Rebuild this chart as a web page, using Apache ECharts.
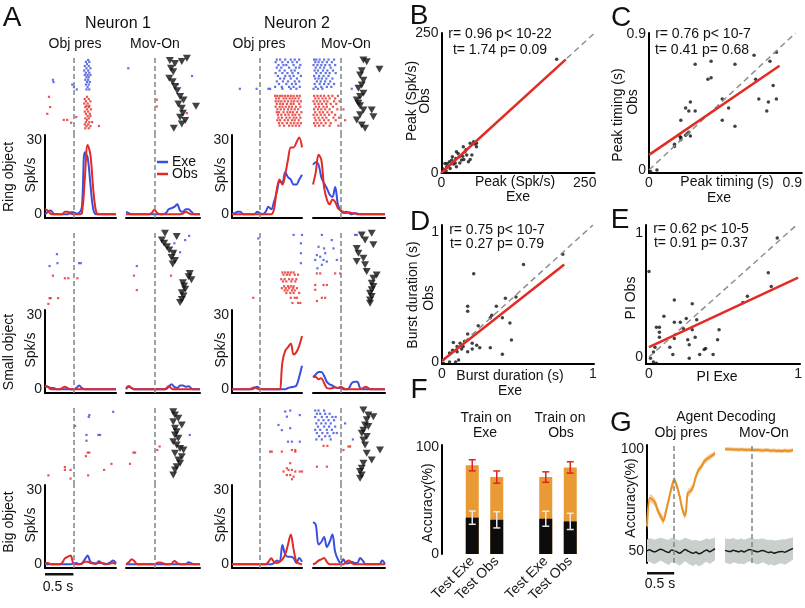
<!DOCTYPE html>
<html>
<head>
<meta charset="utf-8">
<title>Neuron figure</title>
<script src="https://cdn.jsdelivr.net/npm/echarts@6/dist/echarts.min.js"></script>
<style>
html,body{margin:0;padding:0;background:#ffffff;}
#chart{width:805px;height:608px;}
</style>
</head>
<body>
<div id="chart"></div>
<script>
// ================= DATA =================
const timeObj = [-0.5,-0.45,-0.4,-0.35,-0.3,-0.25,-0.2,-0.15,-0.1,-0.05,0,0.05,0.1,0.15,0.2,0.25,0.3,0.35,0.4,0.45,0.5,0.55,0.6,0.65,0.7,0.75];
const timeMov = [-0.5,-0.45,-0.4,-0.35,-0.3,-0.25,-0.2,-0.15,-0.1,-0.05,0,0.05,0.1,0.15,0.2,0.25,0.3,0.35,0.4,0.45,0.5,0.55,0.6,0.65,0.7,0.75,0.8];
const psthTickLabels = [0, 30];

// PSTHs (spk/s)  Neuron 1
const n1RingObjPsthExe  = [0,1,1.5,0.3,0,0,0,0,0,0.8,0.8,0.3,0.5,3,25,23,12,2,0,0,0,0,0,0,0,0];
const n1RingObjPsthObs  = [2,1.5,0.2,0,0,0,0,1,1,0.3,0,0,0,0.5,14,28,24,10,1,0,0,0,0,0,0,0];
const n1RingMovPsthExe  = [1,0.5,0,0,0,0,0,0,0,0,0,0,0,0,0.5,2,2.5,3,4,1.5,1,2,2,1,0,0,0];
const n1RingMovPsthObs  = [0,0,0,0,0,0,0,0,0,0.5,1.8,0.5,0,0,0,0,0,0,0,0,0.3,1,0.5,0,0,0,0];
const n1SmallObjPsthExe = [1,1,0.5,0.5,0,0,0,0,0,0,0,0.5,1.5,0.5,0,0,0,0,0,0,0,0,0,0,0,0];
const n1SmallObjPsthObs = [1.5,1,0,0,0,0,0.5,1,0.5,0,0,0,0,0,0,0,0,0,0,0,0,0,0,0,0,0];
const n1SmallMovPsthExe = [0,1,0.5,0,0,0,0,0,0,0,0,0,0,0,0,1,2,1,0.5,1.5,1.5,1,1.2,0.3,0,0,0];
const n1SmallMovPsthObs = [0.5,1.3,0.5,0,0,0,0,0,0,0,0,0,0,0,0.3,1.2,0.3,0,0,0,0,0,0,0,0,0,0];
const n1BigObjPsthExe   = [0,0,0,0,0,0,0,0,0,0,0.3,0.5,0,0.3,2,3.5,1,0.5,0.3,1.2,0.5,0,0.2,0.8,1.5,0.5];
const n1BigObjPsthObs   = [0.5,0.5,0,0,0,0,0.5,2.4,3,3.5,0.3,0,0,0.3,1,1,0.5,0.3,0.2,0.5,0.5,0.3,0,0.3,0.5,0];
const n1BigMovPsthExe   = [0,0,0,0,0,0,0,0,0,0,0,0,0,0,0,0,0,0,0,0,0,0,0.8,0.3,0,0,0];
const n1BigMovPsthObs   = [0,0.8,2,1.2,0,0,0,0,0,0,0,0.6,0.7,0.4,0,0,0.3,1.3,0.5,0,0,0,0,0,0,0,0];
// PSTHs Neuron 2
const n2RingObjPsthExe  = [0,0.5,1,1,0,0,0,0,0,1,0.5,0,1,3,2,5,9,13,13,17,15,14,12,12,14,16];
const n2RingObjPsthObs  = [0,0,0,0,0,0,0,0,0,0,0,0,0,0,0,2,10,14,12,16,22,27,27,29,31,27];
const n2RingMovPsthExe  = [20,21,20,15,12.5,10.5,8,7,11,4,1.5,0.5,1,0.5,0,0.5,0.3,0,0,0,0,0,0,0,0,0,0];
const n2RingMovPsthObs  = [12,17,24,22,11,6,4,6,5,2.5,1.5,1,0.5,0.8,0.5,0.3,0,0,0,0,0,0,0,0,0,0,0];
const n2SmallObjPsthExe = [0,0,0,0,0,0,0,0,0.5,1,0.3,0,0,0,0,0,0,0,0,0,0.5,0.8,1,1.5,5,9.5];
const n2SmallObjPsthObs = [0,0,0,0,0,0,0,0.3,0.8,0.3,0,0,0,0,0,0,0,0,11,15.5,17,18.5,14,15,17.5,21.5];
const n2SmallMovPsthExe = [5,6,7,7,5.5,3,2,1.5,0.8,0.5,0.5,0,0,0.5,2.5,3,3,0.5,0,0,0,0,0,0,0,0,0];
const n2SmallMovPsthObs = [5,5,4,4.5,2.5,0.5,0.3,0.5,0.8,0.5,1,0.5,0,0,0,0,0,0,0.5,1,0.5,0,0,0,0,0,0];
const n2BigObjPsthExe   = [0,0,0,0,0,0,0,0,0,0,0,0,0,0,0,0.5,1.5,1,7.8,4,3,3,2.5,0.5,2.5,1];
const n2BigObjPsthObs   = [0,0,0,0,0,0,0,0,0,0,0,0,0,1,2.4,1,0.5,1,2,4,8,12,6,1,0.3,0];
const n2BigMovPsthExe   = [17,16,8,9,11,7,9,12,5,2,0.5,2,0.3,0.5,1,0.5,0.5,2.5,1.5,0,0,0,0,0,0,1.5,0];
const n2BigMovPsthObs   = [0,0.5,1.5,2,2.5,1,0,0,0,0,0,0,1,1.5,0.5,0,0,0,0,0,0,0,0,0,0,0,0];

// Rasters: each row = [trial position, spike times...]; onsets = [time, trial position]
const n1RingObjExeSpikes = [[0.6,0.26],[1.2,0.22,0.28],[1.9,0.24],[2.5,0.2,0.27],[3.2,0.23,0.3],[3.9,0.19,0.26],[4.6,0.22,0.28],[5.3,0.2,0.25,0.3],[6.0,0.23,0.27],[6.8,-0.36,0.21,0.26],[7.5,-0.35,0.24,0.29],[8.3,-0.02,0.22,0.27],[9.1,0.01,0.25],[9.8,0.06,0.23,0.28]];
const n1RingObjObsSpikes = [[12.1,-0.43,0.24],[12.8,0.2,0.27],[13.5,0.22,0.3],[14.2,0.19,0.25],[14.9,0.23,0.28],[15.3,-0.41,0.21,0.27],[16.0,0.24,0.31],[16.7,0.2,0.26],[17.4,-0.46,0.22,0.29],[18.1,0.25,0.3],[18.4,0.05],[18.8,0.21,0.27],[19.3,-0.17,-0.11,0.24],[20.0,0.22,0.28,0.33],[20.2,-0.04],[20.7,0.2,0.26],[21.2,0.23,0.3,0.45],[21.9,0.21,0.27]];
const n1RingMovExeSpikes = [[3.2,-0.46],[5.6,0.66],[8.2,0.41]];
const n1RingMovObsSpikes = [[13,0.04],[15.1,0.04],[17.2,0.57]];
const n1RingMovOnsets = [[0.57,0.1],[0.27,0.8],[0.48,1.1],[0.36,1.7],[0.29,3.2],[0.33,4.3],[0.26,6.3],[0.32,7.4],[0.36,8.9],[0.4,10.2],[0.45,12],[0.51,13.1],[0.42,14.3],[0.73,15],[0.48,15.7],[0.5,17.2],[0.45,18.5],[0.54,19.5],[0.48,20.6],[0.34,21.9]];

const n1SmallObjExeSpikes = [[6.6,-0.29],[9.4,-0.28,0.1,0.13],[10.3,-0.42]];
const n1SmallObjObsSpikes = [[13.3,-0.36],[14.1,-0.15,-0.09,0.07],[20.3,-0.42,-0.4,-0.27],[22.1,-0.44]];
const n1SmallMovExeSpikes = [[0.9,0.61],[2.2,0.54],[3.2,0.35],[6,0.36,0.45],[10.3,-0.31]];
const n1SmallMovObsSpikes = [[13.3,-0.36,0.29],[17.8,-0.31]];
const n1SmallMovOnsets = [[0.185,0.1],[0.39,1.1],[0.13,2.2],[0.17,3.2],[0.22,4.3],[0.26,5.3],[0.33,6.3],[0.3,7.6],[0.36,8.6],[0.32,9.7],[0.62,12.6],[0.6,13.6],[0.65,14.6],[0.5,15.5],[0.52,16.5],[0.54,17.5],[0.48,18.6],[0.51,19.6],[0.48,20.7],[0.45,21.7]];

const n1BigObjExeSpikes = [[1.2,0.7],[2.2,0.28],[2.8,0.27],[5.6,0.03],[8.4,0.23,0.44,0.47],[10.2,0.23]];
const n1BigObjObsSpikes = [[13.9,0.25,0.28],[15,0.22],[17.4,0.67],[18.4,-0.15],[19.3,-0.15,-0.05,0.54],[21,-0.44,0.26],[22,-0.05]];
const n1BigMovExeSpikes = [[8.4,0.62]];
const n1BigMovObsSpikes = [[12,0.09],[13.1,0.05],[13.9,-0.37,-0.34],[17.4,-0.43]];
const n1BigMovOnsets = [[0.33,1.15],[0.36,2.2],[0.42,3.2],[0.33,4.3],[0.48,5.3],[0.36,6.3],[0.39,7.4],[0.36,8.4],[0.42,9.4],[0.33,10.5],[0.39,11.5],[0.45,12.6],[0.51,13.1],[0.36,14.1],[0.48,15.2],[0.42,16.2],[0.45,17.2],[0.39,18.3],[0.36,19.3],[0.33,20.9]];

const n2RingObjExeSpikes = [[0.5,0.3,0.36,0.45,0.55,0.62,0.7],[1.3,0.28,0.4,0.5,0.58,0.66],[2.2,0.33,0.42,0.47,0.6,0.72],[3.0,0.3,0.38,0.52,0.64,0.7],[3.9,0.35,0.44,0.56,0.62],[4.7,0.28,0.4,0.49,0.58,0.68],[5.6,0.32,0.45,0.53,0.6,0.73],[6.4,0.36,0.43,0.55,0.66],[7.3,0.3,0.41,0.5,0.62,0.7],[8.1,0.34,0.47,0.57,0.64],[9.0,0.27,0.39,0.52,0.6,0.71],[9.6,-0.36,-0.06,0.15,0.18,0.4,0.55,0.65]];
const n2RingObjObsSpikes = [[11.8,0.27,0.31,0.36,0.4,0.45,0.5,0.55,0.6,0.66,0.71],[12.6,0.29,0.34,0.42,0.47,0.53,0.58,0.63,0.69],[13.5,0.28,0.33,0.38,0.44,0.5,0.56,0.61,0.67,0.73],[14.3,0.3,0.36,0.41,0.48,0.55,0.6,0.7],[15.2,0.28,0.35,0.4,0.46,0.52,0.57,0.64,0.72],[16.0,0.31,0.37,0.43,0.5,0.56,0.62,0.68],[16.9,0.3,0.34,0.42,0.49,0.54,0.59,0.66,0.74],[17.7,0.32,0.38,0.45,0.51,0.58,0.63,0.7],[18.6,0.33,0.39,0.47,0.53,0.6,0.65,0.72],[19.4,0.31,0.36,0.44,0.5,0.57,0.62,0.69],[20.3,0.34,0.4,0.48,0.55,0.61,0.67,0.73],[21.1,0.35,0.43,0.52,0.58,0.64,0.7]];
const n2RingMovExeSpikes = [[0.5,-0.48,-0.44,-0.38,-0.3,-0.22,-0.12],[1.3,-0.46,-0.4,-0.33,-0.25,-0.16],[2.2,-0.49,-0.42,-0.35,-0.28,-0.2,-0.1],[3.0,-0.45,-0.37,-0.3,-0.18],[3.9,-0.47,-0.41,-0.32,-0.24,-0.14],[4.7,-0.44,-0.36,-0.27,-0.2,-0.09],[5.6,-0.48,-0.39,-0.31,-0.22],[6.4,-0.46,-0.4,-0.34,-0.26,-0.15],[7.3,-0.43,-0.36,-0.28,-0.19],[8.1,-0.47,-0.38,-0.3,-0.22,-0.12],[9.0,-0.45,-0.35,-0.25,-0.17],[9.6,-0.49,-0.41,-0.33,0.2]];
const n2RingMovObsSpikes = [[11.8,-0.48,-0.42,-0.36,-0.3,-0.22,-0.15,-0.05],[12.6,-0.46,-0.4,-0.33,-0.27,-0.2,-0.1],[13.5,-0.49,-0.43,-0.37,-0.3,-0.24,-0.12,-0.02],[14.3,-0.47,-0.4,-0.34,-0.26,-0.18,-0.08],[15.2,-0.45,-0.39,-0.31,-0.25,-0.14],[16.0,-0.48,-0.41,-0.35,-0.28,-0.2,-0.06,0.05],[16.9,-0.46,-0.38,-0.32,-0.24,-0.16],[17.7,-0.49,-0.43,-0.36,-0.29,-0.21,-0.1],[18.6,-0.47,-0.4,-0.33,-0.26,-0.13,-0.03],[19.4,-0.45,-0.38,-0.3,-0.22,-0.09,0.08],[20.3,-0.48,-0.42,-0.35,-0.27,-0.18],[21.1,-0.46,-0.39,-0.31,-0.2,-0.04]];
const n2RingMovOnsets = [[0.41,0.6],[0.47,1.2],[0.7,3.5],[0.38,4],[0.35,5.3],[0.41,6.9],[0.38,8.4],[0.32,9.4],[0.41,11],[0.35,12],[0.29,13.1],[0.32,14.1],[0.35,14.9],[0.41,16.2],[0.56,16.2],[0.59,18.3],[0.35,17.7],[0.29,19.3],[0.38,20.9],[0.44,21.9]];

const n2SmallObjExeSpikes = [[0.6,0.6,0.75],[1.7,-0.03],[3.2,0.73],[6.3,0.73],[9.4,0.73]];
const n2SmallObjObsSpikes = [[12.3,0.4,0.45,0.5,0.55,0.6],[13.0,0.42,0.48,0.53,0.62,0.68],[14.4,0.38,0.44,0.52,0.58,0.65],[15.1,0.41,0.47,0.56,0.63],[16.6,0.43,0.5,0.55,0.6],[17.2,0.39,0.46,0.52,0.59,0.66],[17.9,0.44,0.49,0.57,0.62],[18.7,0.47,0.54,0.6,0.7],[20.2,-0.12,0.55,0.62,0.66],[21.8,0.58,0.68,0.72]];
const n2SmallMovExeSpikes = [[0.6,-0.34,0.26,0.29],[2.2,-0.16],[4.3,-0.4],[4.8,-0.3,-0.13],[6.3,-0.28],[6.9,-0.43],[7.4,-0.37],[8.4,-0.46,-0.31,-0.07],[8.9,-0.25],[9.9,-0.34],[11,-0.42]];
const n2SmallMovObsSpikes = [[11.6,0.44],[12.6,-0.43,-0.37,-0.1,-0.01],[16.2,-0.46,-0.31,-0.25],[17.7,-0.46],[20.2,-0.34,-0.28],[21.2,-0.43]];
const n2SmallMovOnsets = [[0.38,0.6],[0.56,0.1],[0.44,2.2],[0.59,3.7],[0.29,4.8],[0.32,6.3],[0.41,7.9],[0.29,8.9],[0.44,9.9],[0.47,12],[0.65,13.1],[0.59,14.1],[0.56,15.7],[0.59,16.7],[0.56,17.7],[0.53,18.8],[0.56,19.8],[0.53,20.9],[0.53,21.9]];

const n2BigObjExeSpikes = [[0.8,0.54],[1.1,0.45],[2.2,0.71],[2.7,0.48],[5.3,0.33],[6.3,0.54],[6.9,0.39],[10.5,0.5,0.57,0.71]];
const n2BigObjObsSpikes = [[13.1,0.57,0.63],[13.6,0.18,0.21,0.39,0.63],[17.2,0.54],[18.8,0.48],[19.3,0.51,0.57],[19.8,0.42,0.63,0.71,0.75],[20.9,0.48,0.54],[21.4,0.6],[22.2,0.57]];
const n2BigMovExeSpikes = [[0.8,-0.46,-0.4,-0.3],[1.8,-0.43,-0.37,-0.28,-0.2],[2.8,-0.46,-0.34,-0.25,-0.15,-0.09],[3.8,-0.4,-0.31,-0.22,-0.12],[4.8,-0.44,-0.35,-0.27,-0.18,0.08],[5.8,-0.41,-0.3,-0.21,-0.1],[6.8,-0.46,-0.37,-0.25,-0.16],[7.8,-0.43,-0.33,-0.24,-0.13,-0.07],[8.8,-0.39,-0.28,-0.2],[9.8,-0.44,-0.34,-0.18,0.22]];
const n2BigMovObsSpikes = [[11.8,-0.31,-0.24],[12,0.14,0.17],[13.1,0.05],[18.3,-0.43,-0.25]];
const n2BigMovOnsets = [[0.41,0.6],[0.5,2.2],[0.59,2.7],[0.47,3.7],[0.44,5.3],[0.5,5.8],[0.41,6.9],[0.38,7.9],[0.47,8.9],[0.41,10],[0.44,11.5],[0.71,13.1],[0.47,14.1],[0.56,16.2],[0.41,17.2],[0.38,18.8],[0.35,19.8],[0.38,20.9],[0.35,21.9]];

// B: peak firing rate (spk/s)
const bPeakExe = [201,6,9,14,18,21,25,26,31,35,38,41,44,47,37,50,53,58,50,15,3,8,24,32,39,29,43,61,56,19,10,61,26];
const bPeakObs = [203,17,11,20,23,16,26,11,29,23,47,38,32,20,30,53,32,52,24,8,7,4,18,18,24,35,42,47,56,29,17,53,38];
const bFit = [[0,0.5],[217,203]];
// C: peak timing (s)
const cTimingExe = [0.05,0.01,0.16,0.16,0.2,0.195,0.2,0.23,0.24,0.26,0.25,0.2,0.23,0.25,0.26,0.29,0.29,0.37,0.39,0.39,0.46,0.46,0.5,0.54,0.54,0.66,0.67,0.69,0.74,0.75,0.78,0.76,0.8,0.8];
const cTimingObs = [0,-0.01,0.155,0.17,0.2,0.22,0.215,0.23,0.24,0.225,0.25,0.33,0.41,0.39,0.45,0.39,0.7,0.6,0.61,0.72,0.47,0.33,0.41,0.29,0.7,0.76,0.6,0.47,0.39,0.45,0.56,0.72,0.78,0.47];
const cFit = [[0,0.10],[0.82,0.69]];
// D: burst duration (s)
const dBurstExe = [0.01,0.05,0.09,0.11,0.075,0.07,0.1,0.12,0.14,0.15,0.17,0.17,0.2,0.2,0.23,0.25,0.24,0.21,0.17,0.17,0.32,0.32,0.33,0.36,0.4,0.4,0.42,0.45,0.46,0.49,0.54,0.8,0.13,0.1,0.05];
const dBurstObs = [-0.01,0,0,0.015,0.15,0.09,0.12,0.145,0.12,0.16,0.215,0.08,0.145,0.1,0.13,0.11,0.28,0.68,0.43,0.39,0.34,0.11,0.36,0.43,0.06,0.34,0.49,0.3,0.17,0.5,0.75,0.83,0.1,0.08,0.07];
const dFit = [[0,0.01],[0.81,0.75]];
// E: preference index
const ePiExe = [0.0,0.01,0.03,0.05,0.03,0.04,0.05,0.07,0.07,0.07,0.1,0.14,0.16,0.17,0.17,0.21,0.17,0.23,0.25,0.26,0.27,0.27,0.29,0.29,0.31,0.32,0.34,0.37,0.38,0.43,0.46,0.47,0.63,0.66,0.8,0.82,0.86];
const ePiObs = [0.69,-0.01,-0.04,-0.05,0.04,0.08,0.24,0.24,0.2,0.16,0.33,0.08,0.02,0.46,0.28,0.28,0.15,0.23,0.31,0.14,0.1,-0.01,0.43,0.22,0.16,0.3,0.02,0.06,0.07,0.02,0.14,0.22,0.44,0.49,0.68,0.57,0.96];
const eFit = [[0,0.08],[1.0,0.64]];

// F: decoding accuracy (%)
const fCategories = ['Test Exe','Test Obs','','Test Exe','Test Obs'];
const fAccuracy = [83,72,null,72,81];
const fAccuracyErr = [5.2,5.7,null,4.9,5.3];
const fChance = [34,32,null,33,30.5];
const fChanceErr = [6.2,7.6,null,7,7.6];

// G: agent decoding accuracy (%)
const gTime = [-0.5,-0.45,-0.4,-0.35,-0.3,-0.25,-0.2,-0.15,-0.1,-0.05,0,0.05,0.1,0.15,0.2,0.25,0.3,0.35,0.4,0.45,0.5,0.55,0.6,0.65,0.7,0.75];
const gObjAgent = [62,76,75.2,73.6,69.6,67.1,64.7,69.6,75.2,80.9,85,81.7,76.8,70.4,67.1,78.5,79.3,81.7,86.6,89.8,91.4,93.8,95.1,96,96.9,97.9];
const gObjAgentSe = [2,2,2,2,2,2,2,2,2,2,2,2,2,2,2,2,1.8,1.8,1.6,1.6,1.5,1.5,1.4,1.4,1.3,1.3];
const gMovAgent = [100,99.9,99.9,99.8,99.8,99.7,99.8,99.7,99.6,99.7,99.6,99.5,99.6,99.4,99.3,99.5,99.4,99.2,99.3,99.1,99.2,99.0,99.3,99.1,99.2,99.5];
const gMovAgentSe = [1,1,1,1,1,1,1,1,1,1,1,1,1,1,1,1,1,1,1,1,1,1,1,1,1,1];
const gObjChance = [50,50.5,49.8,49.5,50.2,50.8,50.3,49.6,49.2,50.4,50.1,49.5,48.8,49.7,50.6,49.9,49.2,48.8,49.4,48.6,48.9,49.8,50.4,49.5,50.2,51];
const gObjChanceSe = [5.5,5.8,6,6,5.8,5.6,5.8,6,6.2,6,5.8,6,6.2,6,5.8,6,6.2,6.3,6,6.2,6,5.8,5.8,6,5.8,5.5];
const gMovChance = [50.2,49.8,49.6,50.3,49.9,49.5,50,49.4,50.1,50.6,50.3,49.8,49.5,49.9,50.2,49.6,49.1,49.4,48.8,49.2,49.5,49.7,49.3,49.9,50.5,51.2];
const gMovChanceSe = [6,6,6.2,6,5.8,6,6.2,6,5.8,5.8,6,6,6.2,6,5.8,6,6.2,6,6.2,6,5.8,6,6.2,6,5.8,5.5];

// ================= CHART =================
const FONT = '"Liberation Sans", Arial, Helvetica, sans-serif';
const BLUE = '#3a4fe0', RED = '#e32b25', GRAY = '#7d8884', INK = '#111111';
const ORANGE = '#e99a34', GORANGE = '#e8912a';

const grids = [], xAxes = [], yAxes = [], series = [], graphic = [];

function addGrid(l, t, w, h, xa, ya) {
  const i = grids.length;
  grids.push({left: l, top: t, width: w, height: h});
  xAxes.push(Object.assign({type: 'value', gridIndex: i, show: false, splitLine: {show: false}, axisTick: {show: false}}, xa));
  yAxes.push(Object.assign({type: 'value', gridIndex: i, show: false, splitLine: {show: false}, axisTick: {show: false}}, ya));
  return i;
}
function axLine(w) { return {show: true, onZero: false, lineStyle: {color: '#000', width: w || 2}}; }
function lbl(vals, extra) {
  return Object.assign({show: true, customValues: vals, fontSize: 14, fontFamily: FONT, color: '#1a1a1a', margin: 4}, extra || {});
}
function zeroLine() {
  return {silent: true, symbol: 'none', label: {show: false}, animation: false,
    lineStyle: {color: GRAY, type: [5, 3], width: 1.5}, data: [{xAxis: 0}]};
}
function zip(a, b) { return a.map((v, i) => [v, b[i]]); }
function flatRows(rows) {
  const out = [];
  rows.forEach(r => { for (let k = 1; k < r.length; k++) out.push([r[k], r[0]]); });
  return out;
}

function psth(l, t, w, tmax, times, exe, obs, showY) {
  const g = addGrid(l, t, w, 83,
    {show: true, min: -0.5, max: tmax, axisLine: axLine(2), axisLabel: {show: false}},
    {show: showY, min: -1.5, max: 32, axisLine: axLine(2), axisLabel: lbl(psthTickLabels, {margin: 3})});
  series.push({type: 'line', xAxisIndex: g, yAxisIndex: g, data: zip(times, exe), smooth: 0.35, symbol: 'none',
    lineStyle: {color: BLUE, width: 2}, itemStyle: {color: BLUE}, markLine: zeroLine(), z: 3});
  series.push({type: 'line', xAxisIndex: g, yAxisIndex: g, data: zip(times, obs), smooth: 0.35, symbol: 'none',
    lineStyle: {color: RED, width: 2}, itemStyle: {color: RED}, z: 3});
  return g;
}
function raster(l, t, w, tmax, exeRows, obsRows, onsets) {
  const g = addGrid(l, t, w, 77, {min: -0.5, max: tmax}, {min: 0, max: 24, inverse: true});
  series.push({type: 'scatter', xAxisIndex: g, yAxisIndex: g, data: flatRows(exeRows), symbol: 'rect', symbolSize: 2.2,
    itemStyle: {color: BLUE}, markLine: zeroLine(), silent: true});
  series.push({type: 'scatter', xAxisIndex: g, yAxisIndex: g, data: flatRows(obsRows), symbol: 'rect', symbolSize: 2.2,
    itemStyle: {color: RED}, silent: true});
  if (onsets) series.push({type: 'scatter', xAxisIndex: g, yAxisIndex: g, data: onsets, symbol: 'triangle',
    symbolRotate: 180, symbolSize: [8, 7], itemStyle: {color: INK}, silent: true});
  return g;
}

// ---------- Panel A ----------
const colN1Obj = {l: 45, w: 71, tmax: 0.75};
const colN1Mov = {l: 126, w: 74, tmax: 0.8};
const colN2Obj = {l: 232, w: 70, tmax: 0.75};
const colN2Mov = {l: 313, w: 72, tmax: 0.8};
const rowOff = [0, 175, 350];

const panelRows = [
  [[n1RingObjExeSpikes, n1RingObjObsSpikes, null, n1RingObjPsthExe, n1RingObjPsthObs],
   [n1RingMovExeSpikes, n1RingMovObsSpikes, n1RingMovOnsets, n1RingMovPsthExe, n1RingMovPsthObs],
   [n2RingObjExeSpikes, n2RingObjObsSpikes, null, n2RingObjPsthExe, n2RingObjPsthObs],
   [n2RingMovExeSpikes, n2RingMovObsSpikes, n2RingMovOnsets, n2RingMovPsthExe, n2RingMovPsthObs]],
  [[n1SmallObjExeSpikes, n1SmallObjObsSpikes, null, n1SmallObjPsthExe, n1SmallObjPsthObs],
   [n1SmallMovExeSpikes, n1SmallMovObsSpikes, n1SmallMovOnsets, n1SmallMovPsthExe, n1SmallMovPsthObs],
   [n2SmallObjExeSpikes, n2SmallObjObsSpikes, null, n2SmallObjPsthExe, n2SmallObjPsthObs],
   [n2SmallMovExeSpikes, n2SmallMovObsSpikes, n2SmallMovOnsets, n2SmallMovPsthExe, n2SmallMovPsthObs]],
  [[n1BigObjExeSpikes, n1BigObjObsSpikes, null, n1BigObjPsthExe, n1BigObjPsthObs],
   [n1BigMovExeSpikes, n1BigMovObsSpikes, n1BigMovOnsets, n1BigMovPsthExe, n1BigMovPsthObs],
   [n2BigObjExeSpikes, n2BigObjObsSpikes, null, n2BigObjPsthExe, n2BigObjPsthObs],
   [n2BigMovExeSpikes, n2BigMovObsSpikes, n2BigMovOnsets, n2BigMovPsthExe, n2BigMovPsthObs]]
];
const cols = [colN1Obj, colN1Mov, colN2Obj, colN2Mov];
let scaleGrid = null;
panelRows.forEach((row, r) => {
  row.forEach((p, c) => {
    const col = cols[c];
    const isObj = (c % 2 === 0);
    raster(col.l, 58 + rowOff[r], col.w, col.tmax, p[0], p[1], p[2]);
    const g = psth(col.l, 135 + rowOff[r], col.w, col.tmax, isObj ? timeObj : timeMov, p[3], p[4], isObj);
    if (r === 2 && c === 0) scaleGrid = g;
  });
});
// 0.5 s scale bar under Neuron 1 / Big object
series.push({type: 'line', xAxisIndex: scaleGrid, yAxisIndex: scaleGrid, data: [[-0.5, -4], [0, -4]], clip: false,
  symbol: 'none', lineStyle: {color: INK, width: 2.5}, silent: true});

// ---------- Panels B-E ----------
function scatterPanel(box, xr, yr, xTicks, yTicks, xs, ys, fit, diagEnd) {
  const g = addGrid(box[0], box[1], box[2], box[3],
    {show: true, min: xr[0], max: xr[1], axisLine: axLine(2), axisLabel: lbl(xTicks, {margin: 3})},
    {show: true, min: yr[0], max: yr[1], axisLine: axLine(2), axisLabel: lbl(yTicks, {margin: 3})});
  series.push({type: 'line', xAxisIndex: g, yAxisIndex: g, data: [[0, 0], diagEnd], symbol: 'none',
    lineStyle: {color: '#8a918e', width: 1.5, type: [6, 4]}, silent: true});
  series.push({type: 'scatter', xAxisIndex: g, yAxisIndex: g, data: zip(xs, ys), symbol: 'circle', symbolSize: 3.5,
    itemStyle: {color: INK}, silent: true});
  series.push({type: 'line', xAxisIndex: g, yAxisIndex: g, data: fit, symbol: 'none',
    lineStyle: {color: RED, width: 2.5}, silent: true});
}
scatterPanel([441.5, 33, 153, 140], [0, 267], [0, 250], [0, 250], [0, 250], bPeakExe, bPeakObs, bFit, [267, 250]);
scatterPanel([649, 33, 153, 140], [0, 0.96], [-0.02, 0.907], [0, 0.9], [0, 0.9], cTimingExe, cTimingObs, cFit, [0.92, 0.907]);
scatterPanel([442, 225, 152, 139], [0, 1.007], [-0.015, 1.054], [0, 1], [0, 1], dBurstExe, dBurstObs, dFit, [1.0, 1.054]);
scatterPanel([646, 225, 155, 139], [-0.02, 1.013], [-0.056, 1.065], [0, 1], [0, 1], ePiExe, ePiObs, eFit, [0.99, 1.065]);

// ---------- Panel F ----------
const fg = addGrid(460, 445, 122.5, 109,
  {type: 'category', data: fCategories, show: true, axisLine: {show: false}, axisTick: {show: false},
   axisLabel: {show: true, interval: 0, rotate: 45, fontSize: 14, fontFamily: FONT, color: '#1a1a1a', margin: 5}},
  {show: true, min: 0, max: 102, offset: 18, axisLine: axLine(2), axisLabel: lbl([0, 100], {margin: 3})});
series.push({type: 'bar', xAxisIndex: fg, yAxisIndex: fg, data: fAccuracy, barWidth: 13, itemStyle: {color: ORANGE}, silent: true});
series.push({type: 'bar', xAxisIndex: fg, yAxisIndex: fg, data: fChance, barWidth: 13, barGap: '-100%', itemStyle: {color: '#0c0c0c'}, silent: true});
function errSeries(vals, errs, color) {
  const data = [];
  vals.forEach((v, i) => { if (v != null) data.push([i, v - errs[i], v + errs[i]]); });
  return {type: 'custom', xAxisIndex: fg, yAxisIndex: fg, data: data, silent: true, z: 5,
    renderItem: function (params, api) {
      const x = api.value(0);
      const lo = api.coord([x, api.value(1)]);
      const hi = api.coord([x, api.value(2)]);
      const st = {stroke: color, lineWidth: 1.5};
      return {type: 'group', children: [
        {type: 'line', shape: {x1: lo[0], y1: lo[1], x2: hi[0], y2: hi[1]}, style: st},
        {type: 'line', shape: {x1: lo[0] - 3.5, y1: lo[1], x2: lo[0] + 3.5, y2: lo[1]}, style: st},
        {type: 'line', shape: {x1: hi[0] - 3.5, y1: hi[1], x2: hi[0] + 3.5, y2: hi[1]}, style: st}
      ]};
    }};
}
series.push(errSeries(fAccuracy, fAccuracyErr, '#e3241c'));
series.push(errSeries(fChance, fChanceErr, '#e8e8e8'));

// ---------- Panel G ----------
function band(g, times, mean, se, fill) {
  return {type: 'custom', xAxisIndex: g, yAxisIndex: g, data: [[times[0], mean[0]]], silent: true, z: 1,
    renderItem: function (params, api) {
      const up = times.map((t, i) => api.coord([t, mean[i] + se[i]]));
      const lo = times.map((t, i) => api.coord([t, mean[i] - se[i]])).reverse();
      return {type: 'polygon', shape: {points: up.concat(lo)}, style: {fill: fill}};
    }};
}
function gPanel(l, showY, agent, agentSe, chance, chanceSe) {
  const g = addGrid(l, 445, 68, 118, {min: -0.5, max: 0.75},
    {show: showY, min: 44, max: 102, axisLine: axLine(2), axisLabel: lbl([50, 100], {margin: 3})});
  series.push(band(g, gTime, chance, chanceSe, '#c9cfcb'));
  series.push(band(g, gTime, agent, agentSe, '#f6cf9a'));
  series.push({type: 'line', xAxisIndex: g, yAxisIndex: g, data: zip(gTime, chance), symbol: 'none', smooth: 0.3,
    lineStyle: {color: '#1a1a1a', width: 1.5}, silent: true, z: 3});
  series.push({type: 'line', xAxisIndex: g, yAxisIndex: g, data: zip(gTime, agent), symbol: 'none', smooth: 0.3,
    lineStyle: {color: GORANGE, width: 2}, silent: true, z: 4, markLine: zeroLine()});
  return g;
}
const gLeft = gPanel(647, true, gObjAgent, gObjAgentSe, gObjChance, gObjChanceSe);
gPanel(725, false, gMovAgent, gMovAgentSe, gMovChance, gMovChanceSe);
series.push({type: 'line', xAxisIndex: gLeft, yAxisIndex: gLeft, data: [[-0.5, 39], [0, 39]], clip: false,
  symbol: 'none', lineStyle: {color: INK, width: 2.5}, silent: true});

// ---------- Text ----------
function txt(x, y, s, size, opt) {
  opt = opt || {};
  graphic.push({type: 'text', x: x, y: y, rotation: opt.rot || 0, silent: true,
    style: {text: s, fill: opt.color || '#111', fontSize: size, fontFamily: FONT,
      align: opt.align || 'center', verticalAlign: 'middle'}});
}
const V = Math.PI / 2;
txt(12, 18, 'A', 28); txt(419, 16, 'B', 28); txt(621, 18, 'C', 28);
txt(420, 222, 'D', 28); txt(620, 220, 'E', 28); txt(419, 390, 'F', 28); txt(621, 423, 'G', 28);
txt(118, 24, 'Neuron 1', 16); txt(297, 24, 'Neuron 2', 16);
txt(75, 44, 'Obj pres', 14); txt(155, 44, 'Mov-On', 14);
txt(259, 44, 'Obj pres', 14); txt(346, 44, 'Mov-On', 14);
txt(9, 177, 'Ring object', 14, {rot: V}); txt(9, 352, 'Small object', 14, {rot: V}); txt(9, 522, 'Big object', 14, {rot: V});
[175, 350, 525].forEach(y => { txt(31, y, 'Spk/s', 14, {rot: V}); txt(221, y, 'Spk/s', 14, {rot: V}); });
graphic.push({type: 'line', silent: true, shape: {x1: 157, y1: 162, x2: 168, y2: 162}, style: {stroke: BLUE, lineWidth: 2.5}});
graphic.push({type: 'line', silent: true, shape: {x1: 157, y1: 174, x2: 168, y2: 174}, style: {stroke: RED, lineWidth: 2.5}});
txt(172, 162, 'Exe', 14, {align: 'left'}); txt(172, 174, 'Obs', 14, {align: 'left'});
txt(58, 587, '0.5 s', 14);
txt(500, 34, 'r= 0.96 p< 10-22', 14); txt(500, 50, 't= 1.74 p= 0.09', 14);
txt(515, 182, 'Peak (Spk/s)', 14); txt(518, 197, 'Exe', 14);
txt(412, 101, 'Peak (Spk/s)', 14, {rot: V}); txt(425, 101, 'Obs', 14, {rot: V});
txt(703, 34, 'r= 0.76 p< 10-7', 14); txt(702, 50, 't= 0.41 p= 0.68', 14);
txt(727, 182, 'Peak timing (s)', 14); txt(719, 198, 'Exe', 14);
txt(618, 115, 'Peak timing (s)', 14, {rot: V}); txt(633, 102, 'Obs', 14, {rot: V});
txt(497, 230, 'r= 0.75 p< 10-7', 14); txt(497, 244, 't= 0.27 p= 0.79', 14);
txt(510, 376, 'Burst duration (s)', 14); txt(510, 391, 'Exe', 14);
txt(413, 295, 'Burst duration (s)', 14, {rot: V}); txt(429, 298, 'Obs', 14, {rot: V});
txt(701, 229, 'r= 0.62 p< 10-5', 14); txt(701, 243, 't= 0.91 p= 0.37', 14);
txt(717, 377, 'PI Exe', 14); txt(631, 298, 'PI Obs', 14, {rot: V});
txt(486, 418, 'Train on', 14); txt(485, 433, 'Exe', 14);
txt(560, 418, 'Train on', 14); txt(561, 433, 'Obs', 14);
txt(428, 503, 'Accuracy(%)', 14, {rot: V});
txt(726, 417, 'Agent Decoding', 14); txt(681, 433, 'Obj pres', 14); txt(764, 433, 'Mov-On', 14);
txt(631, 498, 'Accuracy(%)', 14, {rot: V}); txt(660, 584, '0.5 s', 14);

const chart = echarts.init(document.getElementById('chart'), null, {renderer: 'canvas', width: 805, height: 608});
chart.setOption({
  animation: false,
  backgroundColor: '#ffffff',
  textStyle: {fontFamily: FONT},
  grid: grids, xAxis: xAxes, yAxis: yAxes, series: series, graphic: graphic
});
</script>
</body>
</html>
